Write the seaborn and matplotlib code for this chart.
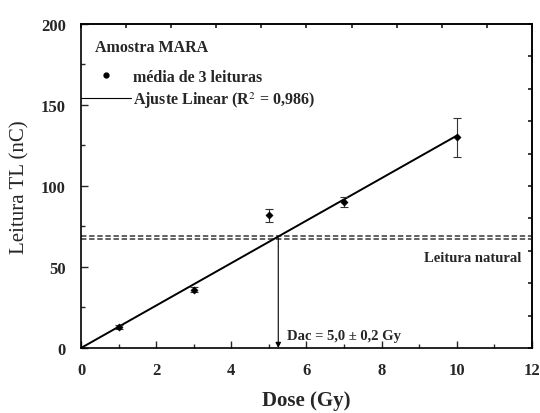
import matplotlib
matplotlib.use("Agg")
import matplotlib.pyplot as plt
from matplotlib.lines import Line2D
import seaborn as sns
import numpy as np
import pandas as pd

dose = [1, 3, 5, 7, 10]
leitura = [13, 36, 82, 90, 130]
erro = [1.0, 1.5, 4.0, 3.0, 12.0]
fit_x = [0, 10]
fit_y = [0, 131]
leitura_natural = 68
dac = 5.25

sns.set_theme(style="ticks")
plt.rcParams['font.family'] = ['Liberation Serif', 'DejaVu Serif']
plt.rcParams['mathtext.fontset'] = 'stix'

fig = plt.figure(figsize=(5.4, 4.14), dpi=100)
ax = fig.add_axes([0.15, 0.157, 0.835, 0.783])

df = pd.DataFrame({"dose": dose, "leitura": leitura})
fdf = pd.DataFrame({"x": fit_x, "y": fit_y})

ax.errorbar(dose, leitura, yerr=erro, fmt='none', ecolor='#333333',
            elinewidth=0.8, capsize=3, capthick=0.8, zorder=3)
sns.lineplot(data=fdf, x="x", y="y", ax=ax, color='black', lw=1.4,
             legend=False, zorder=2)
sns.scatterplot(data=df, x="dose", y="leitura", ax=ax, color='black',
                s=14, marker='D', edgecolor='black', zorder=4, legend=False)

for off in (-0.9, 0.9):
    ax.axhline(leitura_natural + off, color='#555555', lw=1.3,
               dashes=(3, 1.5), zorder=1)

ax.annotate("", xy=(dac, 0), xytext=(dac, leitura_natural),
            arrowprops=dict(arrowstyle='-|>', color='black', lw=0.8,
                            mutation_scale=8, shrinkA=0, shrinkB=0))

ax.text(5.48, 7.5, u"Dac = 5,0 ± 0,2 Gy", fontsize=10.5, fontweight='bold',
        va='center')
ax.text(11.73, 55.6, "Leitura natural", fontsize=10.5, fontweight='bold',
        ha='right', va='center')

ax.set_xlim(0, 12)
ax.set_ylim(0, 200)
ax.set_xticks(np.arange(0, 13, 2))
ax.set_xticks(np.arange(1, 12, 2), minor=True)
ax.set_yticks(np.arange(0, 201, 50))
ax.set_yticks(np.arange(25, 200, 50), minor=True)
ax.tick_params(axis='both', which='both', direction='in', top=False,
               right=False, labelsize=12)
ax.tick_params(axis='x', which='both', pad=10)
ax.tick_params(axis='y', which='both', pad=11)
ax.tick_params(which='major', length=5, width=1)
ax.tick_params(which='minor', length=3, width=1)
for lab in ax.get_xticklabels() + ax.get_yticklabels():
    lab.set_fontweight('bold')

secx = ax.secondary_xaxis('top')
secx.set_xticks(np.arange(0, 12.01, 1.2))
secx.tick_params(direction='in', length=3, labeltop=False)
secy = ax.secondary_yaxis('right')
secy.set_yticks(np.arange(0, 201, 20))
secy.tick_params(direction='in', length=3, labelright=False)

for s in ax.spines.values():
    s.set_linewidth(1.2)
    s.set_color('black')

ax.set_xlabel("Dose (Gy)", fontsize=15, fontweight='bold', labelpad=9)
ax.set_ylabel("Leitura TL (nC)", fontsize=15, labelpad=8)

ax.text(0.031, 0.928, "Amostra MARA", transform=ax.transAxes,
        fontsize=11.5, fontweight='bold', va='center', ha='left')
handles = [Line2D([], [], ls='none', marker='o', color='black', markersize=3.5),
           Line2D([], [], color='black', lw=0.8)]
labels = [u"média de 3 leituras", r"Ajuste Linear (R$^2$ = 0,986)"]
ax.legend(handles, labels, loc='upper left', bbox_to_anchor=(0.0, 0.862),
          frameon=False, prop={'weight': 'bold', 'size': 11.5},
          handlelength=3.1, handletextpad=0.15, labelspacing=0.3,
          borderpad=0, borderaxespad=0)

fig.savefig("out.png", dpi=100)
